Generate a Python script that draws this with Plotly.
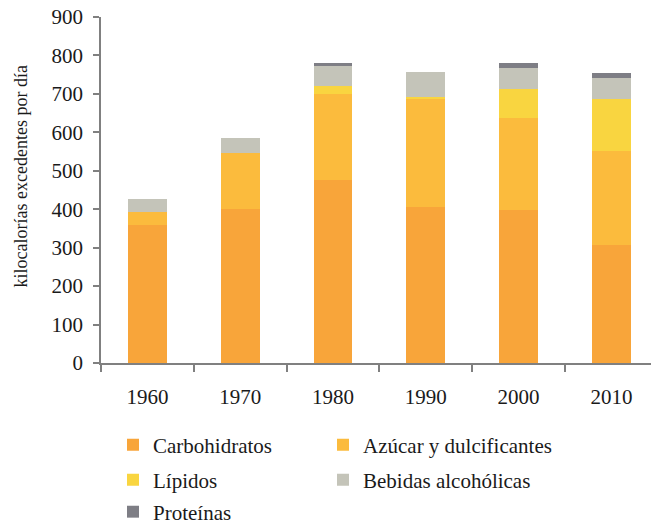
import plotly.graph_objects as go

years = ["1960", "1970", "1980", "1990", "2000", "2010"]
carbohidratos = [358, 401, 477, 406, 398, 308]
azucar = [36, 144, 223, 281, 240, 244]
lipidos = [0, 0, 20, 6, 75, 135]
bebidas = [33, 40, 52, 65, 55, 55]
proteinas = [0, 0, 9, 0, 12, 12]

FONT = "Liberation Serif"
W, H = 651, 524
ML, MT, PH, PW = 101, 17, 346, 550

# (name, values, colour, legend id, legend left px, legend row centre px)
series = [
    ("Carbohidratos", carbohidratos, "#F8A53A", "legend", 113, 445),
    ("Azúcar y dulcificantes", azucar, "#FBBB3D", "legend2", 323, 445),
    ("Lípidos", lipidos, "#F9D540", "legend3", 113, 480),
    ("Bebidas alcohólicas", bebidas, "#C4C4B9", "legend4", 323, 480),
    ("Proteínas", proteinas, "#7E7E85", "legend5", 113, 512),
]

fig = go.Figure()
legends = {}
for name, vals, color, leg, lx, ly in series:
    fig.add_trace(go.Bar(
        x=years, y=vals, name=name, marker=dict(color=color, line=dict(width=0)),
        width=0.42, legend=leg,
    ))
    legends[leg] = dict(
        orientation="h", xref="paper", yref="container", xanchor="left", yanchor="middle",
        x=(lx - ML) / PW, y=1 - ly / H,
        font=dict(family=FONT, size=21, color="#1a1a1a"),
        bgcolor="rgba(0,0,0,0)", itemwidth=30,
    )

fig.update_layout(
    width=W, height=H,
    margin=dict(l=ML, r=0, t=MT, b=H - MT - PH),
    paper_bgcolor="white", plot_bgcolor="white",
    barmode="stack",
    font=dict(family=FONT, size=21, color="#1a1a1a"),
    showlegend=True,
    **legends,
    xaxis=dict(
        type="category", range=[-0.5, 5.427], showgrid=False,
        showline=True, linecolor="#808080", linewidth=1.5,
        ticks="outside", tickson="boundaries", ticklen=7, tickcolor="#808080", tickwidth=1.5,
        tickfont=dict(family=FONT, size=21, color="#1a1a1a"), ticklabelstandoff=14,
        fixedrange=True,
    ),
    yaxis=dict(
        range=[0, 900], dtick=100, showgrid=False, zeroline=False,
        showline=True, linecolor="#808080", linewidth=1.5,
        ticks="outside", ticklen=6, tickcolor="#808080", tickwidth=1.5,
        tickfont=dict(family=FONT, size=21, color="#1a1a1a"), ticklabelstandoff=6,
        ticklabeloverflow="allow", automargin=False,
    ),
    annotations=[dict(
        text="kilocalorías excedentes por día", textangle=-90,
        xref="paper", yref="paper", x=(20 - ML) / PW, y=1 - (176.5 - MT) / PH,
        xanchor="center", yanchor="middle", showarrow=False,
        font=dict(family=FONT, size=18, color="#1a1a1a"),
    )],
)

fig.write_html(
    "out.html",
    config={"displayModeBar": False},
    post_script="document.body.style.margin='0';",
)
